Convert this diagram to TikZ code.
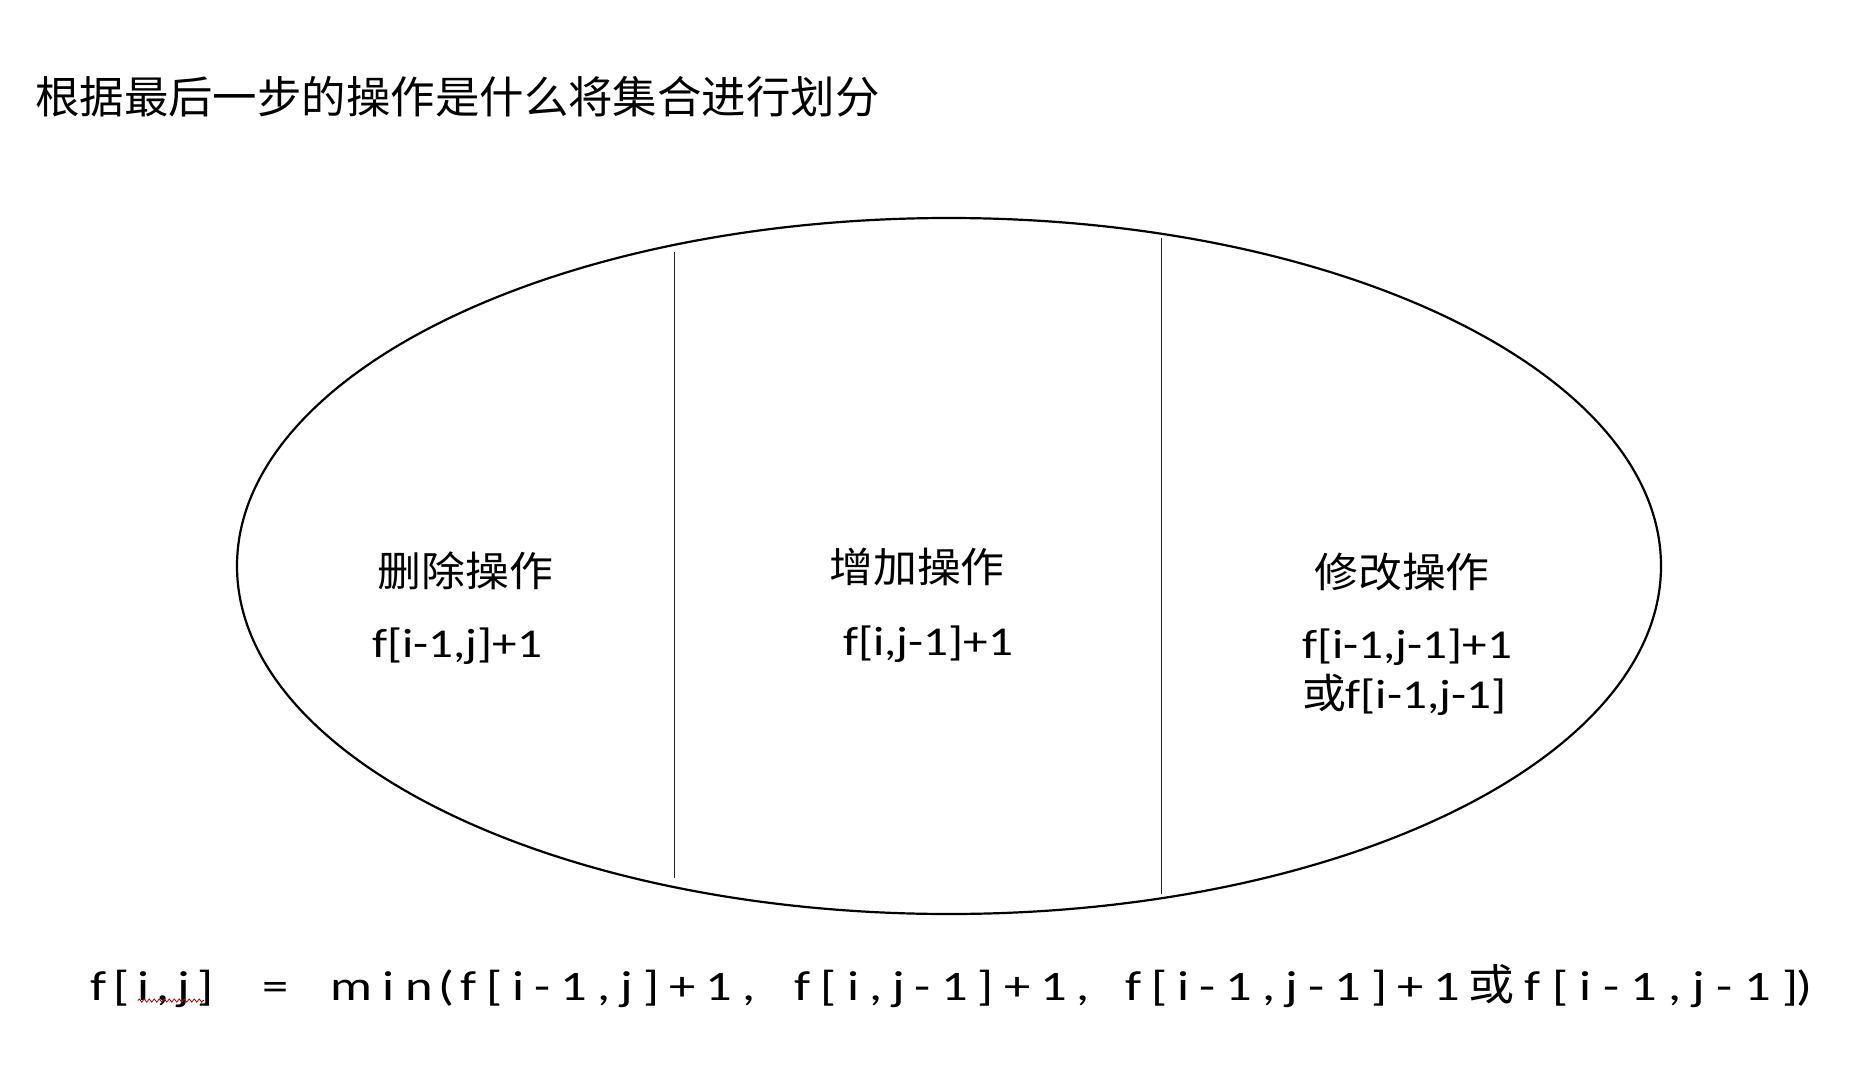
\documentclass[tikz,border=0pt]{standalone}
\usepackage{fontspec}
\usetikzlibrary{decorations.pathmorphing}
\setmainfont{Carlito}[FakeStretch=1.2]
\newfontfamily\cjk{Noto Sans CJK SC}[FakeStretch=1.07]
\newfontfamily\cjktitle{Noto Sans CJK SC}[FakeStretch=1.01]
\newfontfamily\fml{Carlito}[FakeStretch=1.25,LetterSpace=24]
\tikzset{
  lbl/.style={inner sep=0pt, outer sep=0pt, anchor=base},
  divider/.style={line width=1pt, draw=black!85},
  setline/.style={line width=2.2pt},
}
\begin{document}
\begin{tikzpicture}[x=1pt,y=-1pt]
\useasboundingbox[fill=white] (0,0) rectangle (1876,1086);
% title
\node[inner sep=0pt, anchor=base west] (title) at (35,114)
  {\fontsize{44}{50}\selectfont\cjktitle 根据最后一步的操作是什么将集合进行划分};
% the set
\coordinate (setc) at (949,566);
\draw[setline] (setc) ellipse [x radius=712, y radius=348];
\coordinate (d1t) at (674.5,252);
\coordinate (d1b) at (674.5,878);
\coordinate (d2t) at (1161.5,238);
\coordinate (d2b) at (1161.5,894);
\draw[divider] (d1t) -- (d1b);
\draw[divider] (d2t) -- (d2b);
% labels
\node[lbl] (del) at (465.5,586) {\fontsize{41}{48}\selectfont\cjk 删除操作};
\node[lbl] (add) at (917,582) {\fontsize{41}{48}\selectfont\cjk 增加操作};
\node[lbl] (mod) at (1402,587) {\fontsize{41}{48}\selectfont\cjk 修改操作};
\node[lbl] (delf) at (457,657) {\fontsize{41}{50}\selectfont f[i-1,j]+1};
\node[lbl] (addf) at (928,655) {\fontsize{41}{50}\selectfont f[i,j-1]+1};
\node[lbl, anchor=base west] (modf1) at (1302,658) {\fontsize{41}{50}\selectfont f[i-1,j-1]+1};
\node[lbl, anchor=base west] (modf2) at (1302,708) {\fontsize{41}{50}\selectfont{\fontsize{41}{48}\selectfont\cjk 或}f[i-1,j-1]};
% formula
\node[lbl, anchor=base west] (formula) at (90,1000)
  {\fontsize{42}{50}\selectfont\fml{\addfontfeature{LetterSpace=18}f[i,j]}\hspace{49pt}=\hspace{42pt}min\kern6pt(\kern6pt f[i-1,j]+1,\hspace{39pt}f[i,j-1]+1,\hspace{35pt}f[i-1,j-1]+1\hspace{9pt}{\fontsize{43}{50}\selectfont\cjk 或}\hspace{10pt}{\addfontfeature{LetterSpace=27}f[i-1,j-1]}\kern-2pt)};
\coordinate (sqa) at (138,1000.5);
\coordinate (sqb) at (204,1000.5);
\draw[red!75!black, line width=0.8pt, decorate, decoration={zigzag, segment length=5pt, amplitude=1.6pt}] (sqa) -- (sqb);
\end{tikzpicture}
\end{document}
